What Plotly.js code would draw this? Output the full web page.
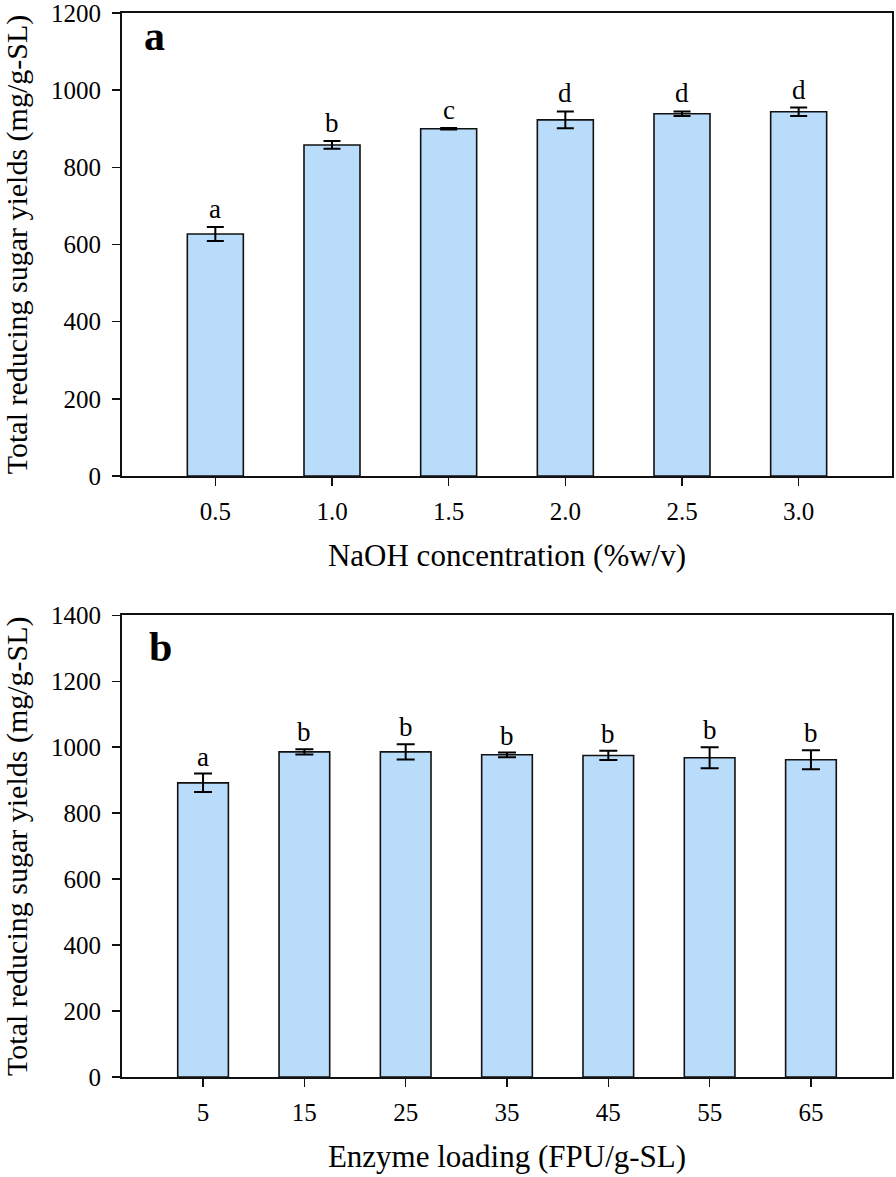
<!DOCTYPE html>
<html>
<head>
<meta charset="utf-8">
<script src="https://cdn.plot.ly/plotly-3.0.1.min.js"></script>
<style>html,body{margin:0;padding:0;background:#fff;}#chart{width:896px;height:1177px;}</style>
</head>
<body>
<div id="chart"></div>
<script>
// Panel a: NaOH concentration
const naohLabels = ['0.5', '1.0', '1.5', '2.0', '2.5', '3.0'];
const naohYield = [627, 858, 900, 923, 939, 944];
const naohErr = [18, 10, 2, 22, 6, 11];
const naohLetters = ['a', 'b', 'c', 'd', 'd', 'd'];

// Panel b: enzyme loading
const enzLabels = ['5', '15', '25', '35', '45', '55', '65'];
const enzYield = [892, 986, 986, 977, 975, 968, 962];
const enzErr = [28, 8, 23, 7, 14, 32, 29];
const enzLetters = ['a', 'b', 'b', 'b', 'b', 'b', 'b'];

const yTitle = 'Total reducing sugar yields (mg/g-SL)';
const FONT = 'Liberation Serif, Times New Roman, serif';
const barFill = '#b9dcfb';

const traceA = {
  type: 'bar', x: naohLabels, y: naohYield, xaxis: 'x', yaxis: 'y',
  width: 0.48,
  marker: {color: barFill, line: {color: '#111', width: 1.6}},
  error_y: {type: 'data', array: naohErr, visible: true, color: '#000', thickness: 2, width: 8.5},
  showlegend: false, hoverinfo: 'skip'
};
const traceB = {
  type: 'bar', x: enzLabels, y: enzYield, xaxis: 'x2', yaxis: 'y2',
  width: 0.5,
  marker: {color: barFill, line: {color: '#111', width: 1.6}},
  error_y: {type: 'data', array: enzErr, visible: true, color: '#000', thickness: 2, width: 9},
  showlegend: false, hoverinfo: 'skip'
};

const annotations = [];
naohLabels.forEach((c, i) => annotations.push({
  x: i, y: naohYield[i] + naohErr[i], xref: 'x', yref: 'y', text: naohLetters[i],
  showarrow: false, yanchor: 'bottom', yshift: 1, font: {family: FONT, size: 27, color: '#000'}
}));
enzLabels.forEach((c, i) => annotations.push({
  x: i, y: enzYield[i] + enzErr[i], xref: 'x2', yref: 'y2', text: enzLetters[i],
  showarrow: false, yanchor: 'bottom', yshift: 0, font: {family: FONT, size: 27, color: '#000'}
}));
annotations.push({x: 0.026, y: 0.9784, xref: 'paper', yref: 'paper', text: '<b>a</b>', showarrow: false,
  xanchor: 'left', yanchor: 'middle', font: {family: FONT, size: 42, color: '#000'}});
annotations.push({x: 0.033, y: 0.4045, xref: 'paper', yref: 'paper', text: '<b>b</b>', showarrow: false,
  xanchor: 'left', yanchor: 'middle', font: {family: FONT, size: 42, color: '#000'}});

const axisCommon = {
  showline: true, linecolor: '#111', linewidth: 2, mirror: true,
  ticks: 'outside', ticklen: 8, tickwidth: 1.5, tickcolor: '#111',
  showgrid: false, zeroline: false, ticklabeloverflow: 'allow',
  tickfont: {family: FONT, size: 25, color: '#000'}
};

const layout = {
  width: 896, height: 1177,
  margin: {l: 122, r: 4, t: 13, b: 100},
  paper_bgcolor: '#fff', plot_bgcolor: '#fff',
  font: {family: FONT, color: '#000'},
  bargap: 0.5,
  xaxis: Object.assign({}, axisCommon, {
    domain: [0, 1], anchor: 'y', type: 'category', range: [-0.8, 5.8],
    ticklabelstandoff: 4,
    title: {text: 'NaOH concentration (%w/v)', font: {family: FONT, size: 31, color: '#000'}, standoff: 20}
  }),
  yaxis: Object.assign({}, axisCommon, {
    domain: [0.5649, 1], anchor: 'x', range: [0, 1200], dtick: 200,
    ticklabelstandoff: 6,
    title: {text: yTitle, font: {family: FONT, size: 30, color: '#000'}, standoff: 16}
  }),
  xaxis2: Object.assign({}, axisCommon, {
    domain: [0, 1], anchor: 'y2', type: 'category', range: [-0.8, 6.8],
    ticklabelstandoff: 4,
    title: {text: 'Enzyme loading (FPU/g-SL)', font: {family: FONT, size: 31, color: '#000'}, standoff: 20}
  }),
  yaxis2: Object.assign({}, axisCommon, {
    domain: [0, 0.4339], anchor: 'x2', range: [0, 1400], dtick: 200,
    ticklabelstandoff: 6,
    title: {text: yTitle, font: {family: FONT, size: 30, color: '#000'}, standoff: 16}
  }),
  annotations: annotations
};

Plotly.newPlot('chart', [traceA, traceB], layout, {displayModeBar: false, staticPlot: true});
</script>
</body>
</html>
